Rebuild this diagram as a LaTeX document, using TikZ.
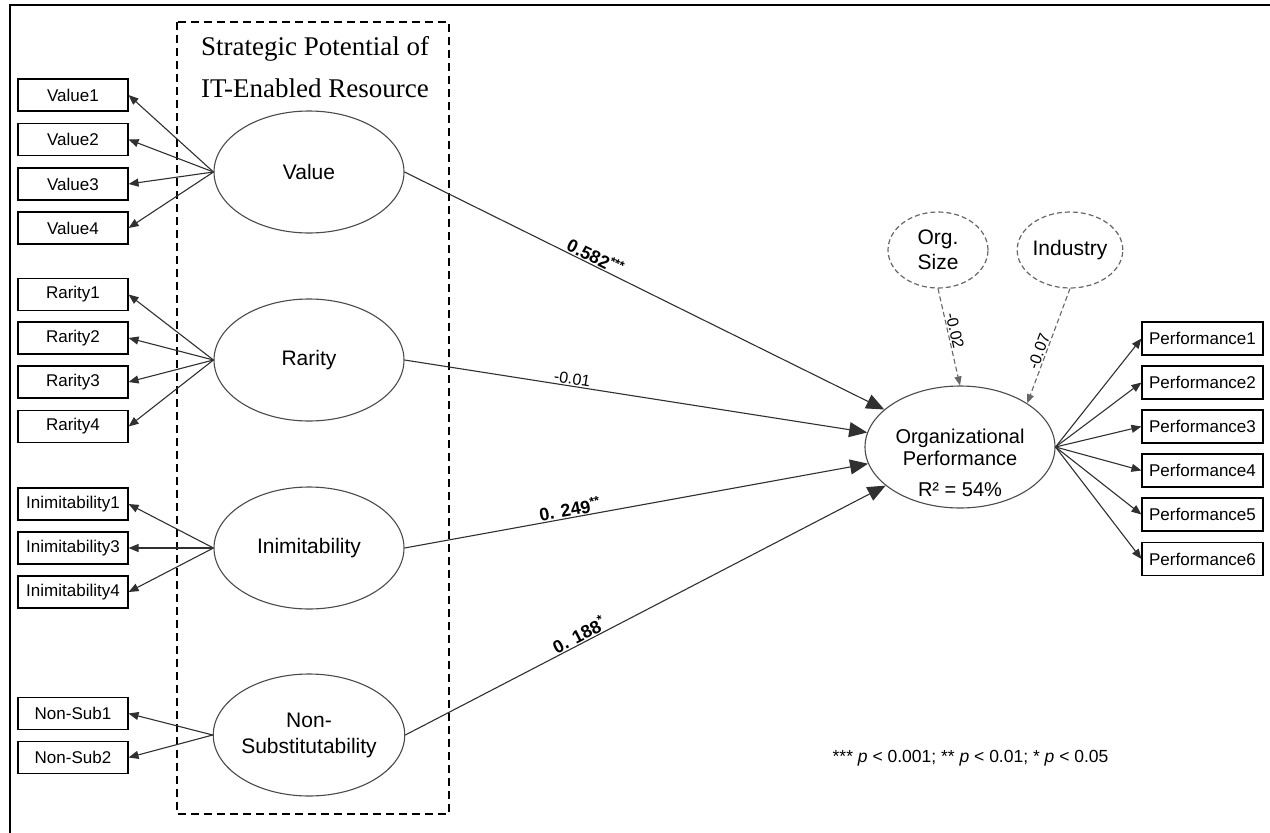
\documentclass[tikz,border=0pt]{standalone}
\usepackage{fontspec}
\setmainfont{Liberation Sans}
\newfontfamily\ttlfont{Liberation Serif}
\usetikzlibrary{arrows.meta,shapes.geometric}
\definecolor{lvgray}{HTML}{4A4A4A}
\definecolor{ctrlgray}{HTML}{666666}
\definecolor{linegray}{HTML}{303030}

\begin{document}
\begin{tikzpicture}[x=1pt, y=-1pt, ind/.style={draw=black, line width=1.1pt, minimum width=110pt, minimum height=32pt, inner sep=0pt, font=\fontsize{17}{20}\selectfont}, perf/.style={ind, minimum width=121pt, minimum height=33pt}, lv/.style={ellipse, draw=lvgray, line width=1.1pt, minimum width=190pt, minimum height=122pt, inner sep=0pt, align=center, font=\fontsize{21}{26}\selectfont}, ctrl/.style={ellipse, draw=ctrlgray, line width=1.2pt, dash pattern=on 5pt off 3pt, minimum width=100pt, minimum height=76pt, inner sep=0pt, align=center, font=\fontsize{21}{25}\selectfont}, meas/.style={-{Triangle[length=10pt,width=8pt]}, line width=1.1pt, draw=linegray}, struct/.style={-{Triangle[length=18pt,width=15pt]}, line width=1.1pt, draw=linegray}, ctrlarr/.style={-{Triangle[length=9pt,width=7pt]}, line width=1.1pt, draw=ctrlgray, dash pattern=on 5pt off 3pt}, coef/.style={sloped, above, inner sep=1pt, font=\bfseries\fontsize{18}{20}\selectfont}, coefn/.style={sloped, above, inner sep=1pt, font=\fontsize{16}{18}\selectfont}, ttl/.style={anchor=base, font=\ttlfont\fontsize{27}{32}\selectfont}]
\useasboundingbox (0,0) rectangle (1270,833);
% frame and group box
\draw[line width=2.4pt] (10,833) -- (10,5) -- (1270,5);
\draw[line width=1.6pt, dash pattern=on 8pt off 5pt] (177,22) rectangle (449,814);
\node[ttl] (ttl1) at (315,55) {Strategic Potential of};
\node[ttl] (ttl2) at (315,97) {IT-Enabled Resource};
% latent variables
\node[lv] (val) at (309,172) {Value};
\node[lv] (rar) at (309,360) {Rarity};
\node[lv] (inim) at (309,548) {Inimitability};
\node[lv] (nsub) at (309,735) {Non-\\Substitutability};
\node[lv, font=\fontsize{20}{22}\selectfont] (op) at (960,447) {Organizational\\Performance};
\node[font=\fontsize{20}{22}\selectfont] (rsq) at (960,490) {R² = 54\%};
\node[ctrl] (osz) at (938,250) {Org.\\Size};
\node[ctrl] (indu) at (1070,250) {Industry};
% indicators
\node[ind] (v1) at (73,95) {Value1};
\node[ind] (v2) at (73,139.5) {Value2};
\node[ind] (v3) at (73,184) {Value3};
\node[ind] (v4) at (73,228) {Value4};
\node[ind] (r1) at (73,294.5) {Rarity1};
\node[ind] (r2) at (73,338) {Rarity2};
\node[ind] (r3) at (73,382) {Rarity3};
\node[ind] (r4) at (73,426.5) {Rarity4};
\node[ind] (i1) at (73,504) {Inimitability1};
\node[ind] (i3) at (73,548) {Inimitability3};
\node[ind] (i4) at (73,592) {Inimitability4};
\node[ind] (n1) at (73,713.5) {Non-Sub1};
\node[ind] (n2) at (73,757.5) {Non-Sub2};
\node[perf] (p1) at (1202.5,338.5) {Performance1};
\node[perf] (p2) at (1202.5,382.5) {Performance2};
\node[perf] (p3) at (1202.5,426.5) {Performance3};
\node[perf] (p4) at (1202.5,470.5) {Performance4};
\node[perf] (p5) at (1202.5,514.5) {Performance5};
\node[perf] (p6) at (1202.5,559) {Performance6};
% measurement arrows
\draw[meas] (val.west) -- (v1.east); \draw[meas] (val.west) -- (v2.east); \draw[meas] (val.west) -- (v3.east); \draw[meas] (val.west) -- (v4.east);
\draw[meas] (rar.west) -- (r1.east); \draw[meas] (rar.west) -- (r2.east); \draw[meas] (rar.west) -- (r3.east); \draw[meas] (rar.west) -- (r4.east);
\draw[meas] (inim.west) -- (i1.east); \draw[meas] (inim.west) -- (i3.east); \draw[meas] (inim.west) -- (i4.east);
\draw[meas] (nsub.west) -- (n1.east); \draw[meas] (nsub.west) -- (n2.east);
\draw[meas] (op.east) -- (p1.west); \draw[meas] (op.east) -- (p2.west); \draw[meas] (op.east) -- (p3.west); \draw[meas] (op.east) -- (p4.west); \draw[meas] (op.east) -- (p5.west); \draw[meas] (op.east) -- (p6.west);
% structural paths
\draw[struct] (val.east) -- (op) node[coef, pos=0.39] {0.582\textsuperscript{***}};
\draw[struct] (rar.east) -- (op) node[coefn, pos=0.36] {-0.01};
\draw[struct] (inim.east) -- (op) node[coef, pos=0.36] {0. 249\textsuperscript{**}};
\draw[struct] (nsub.east) -- (op) node[coef, pos=0.37] {0. 188\textsuperscript{*}};
\draw[ctrlarr] (osz.south) -- (op.north) node[coefn, pos=0.45] {-0.02};
\draw[ctrlarr] (indu.south) -- (op.33) node[coefn, pos=0.57] {-0.07};
\node[anchor=east, font=\fontsize{17.5}{20}\selectfont] (sig) at (1112,758) {*** \textit{p} < 0.001; ** \textit{p} < 0.01; * \textit{p} < 0.05};
\end{tikzpicture}
\end{document}
